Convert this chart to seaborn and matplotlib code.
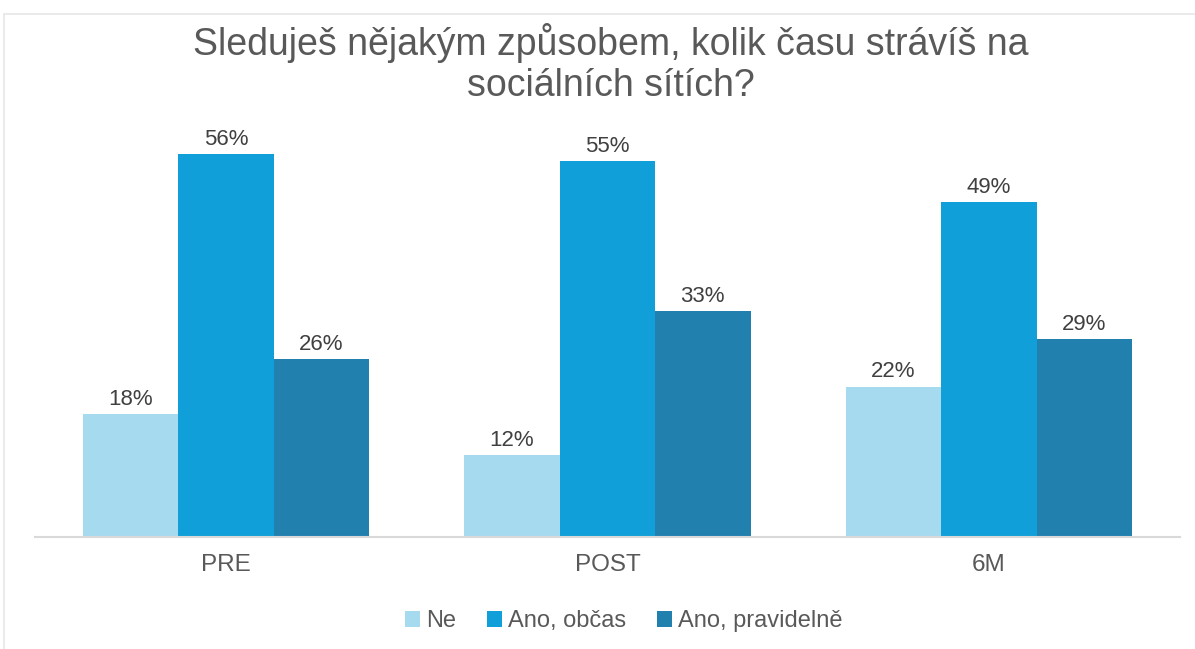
import pandas as pd
import matplotlib.pyplot as plt
import seaborn as sns
from matplotlib.patches import Rectangle

# Données
periodes = ['PRE', 'POST', '6M']
reponses = ['Ne', 'Ano, občas', 'Ano, pravidelně']
ne = [18, 12, 22]
ano_obcas = [56, 55, 49]
ano_pravidelne = [26, 33, 29]
couleurs = ['#A6DAEE', '#109FD8', '#2280AF']

titre = 'Sleduješ nějakým způsobem, kolik času strávíš na\nsociálních sítích?'

df = pd.DataFrame({
    'periode': periodes * 3,
    'reponse': [r for r in reponses for _ in periodes],
    'valeur': ne + ano_obcas + ano_pravidelne,
})

sns.set_style('white')
plt.rcParams['font.family'] = ['Liberation Sans', 'DejaVu Sans']

fig = plt.figure(figsize=(11.95, 6.49), dpi=100)
ax = fig.add_axes([0.0293, 0.1726, 0.958, 0.632])

sns.barplot(data=df, x='periode', y='valeur', hue='reponse', order=periodes,
            hue_order=reponses, palette=couleurs, width=0.75, saturation=1,
            edgecolor='none', ax=ax)

for cont in ax.containers:
    ax.bar_label(cont, labels=[f'{v:.0f}%' for v in cont.datavalues],
                 padding=3, fontsize=16, color='#404040')

ax.set_xlim(-0.5, 2.5)
ax.set_ylim(0, 60)
ax.set_xlabel('')
ax.set_ylabel('')
ax.set_yticks([])
for s in ['top', 'right', 'left']:
    ax.spines[s].set_visible(False)
ax.spines['bottom'].set_color('#D9D9D9')
ax.spines['bottom'].set_linewidth(1.5)
ax.tick_params(axis='x', length=0, labelsize=17.5, colors='#595959', pad=12)

handles, labels = ax.get_legend_handles_labels()
ax.legend_.remove()
fig.legend(handles, labels, loc='center', bbox_to_anchor=(0.522, 0.043), ncol=3,
           frameon=False, fontsize=17, labelcolor='#595959', handlelength=0.65,
           handleheight=0.65, handletextpad=0.25, columnspacing=1.3)

fig.suptitle(titre, x=0.511, y=0.965, fontsize=27, color='#595959', linespacing=1.2)

# cadre
fig.patches.append(Rectangle((0.0035, -0.01), 1.1, 0.989, transform=fig.transFigure,
                             fill=False, edgecolor='#E6E6E6', linewidth=1.2))

plt.savefig('out.png', dpi=100)
